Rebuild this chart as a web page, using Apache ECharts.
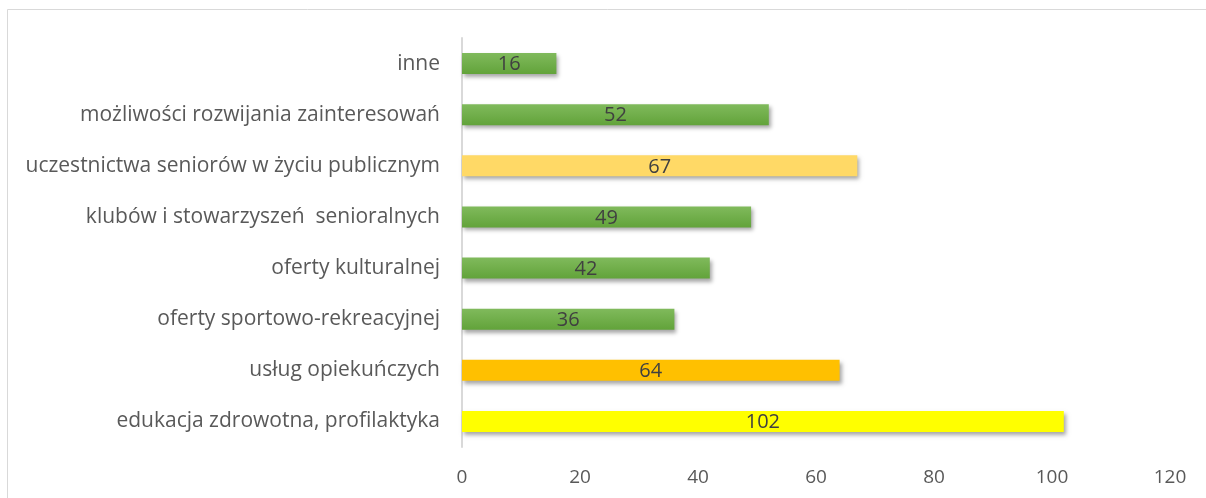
<!DOCTYPE html>
<html>
<head>
<meta charset="utf-8">
<style>
html,body{margin:0;padding:0;background:#fff;}
#chart{width:1206px;height:498px;}
</style>
<script src="https://cdn.jsdelivr.net/npm/echarts@6/dist/echarts.min.js"></script>
</head>
<body>
<div id="chart"></div>
<script>
var categories = [
  "inne",
  "możliwości rozwijania zainteresowań",
  "uczestnictwa seniorów w życiu publicznym",
  "klubów i stowarzyszeń  senioralnych",
  "oferty kulturalnej",
  "oferty sportowo-rekreacyjnej",
  "usług opiekuńczych",
  "edukacja zdrowotna, profilaktyka"
];
var values = [16, 52, 67, 49, 42, 36, 64, 102];
var colorKeys = ["green", "green", "lightyellow", "green", "green", "green", "orange", "yellow"];
var xTicks = [0, 20, 40, 60, 80, 100, 120];

var palette = {
  green: new echarts.graphic.LinearGradient(0, 0, 0, 1, [
    {offset: 0, color: "#80ba5c"},
    {offset: 1, color: "#62a33a"}
  ]),
  lightyellow: "#ffd966",
  orange: "#ffc000",
  yellow: "#ffff00"
};

var FONT = "'Open Sans', sans-serif";
var chart = echarts.init(document.getElementById("chart"), null, {renderer: "canvas"});
chart.setOption({
  animation: false,
  backgroundColor: "#ffffff",
  graphic: [{
    type: "rect",
    shape: {x: 7.5, y: 9.5, width: 1220, height: 520},
    style: {fill: "none", stroke: "#d9d9d9", lineWidth: 1}
  }],
  grid: {left: 462, right: 36, top: 38, bottom: 51, containLabel: false},
  xAxis: {
    type: "value",
    min: xTicks[0],
    max: xTicks[xTicks.length - 1],
    interval: 20,
    axisLine: {show: false},
    axisTick: {show: false},
    splitLine: {show: false},
    axisLabel: {
      color: "#595959", fontSize: 19, fontFamily: FONT, margin: 21
    }
  },
  yAxis: {
    type: "category",
    inverse: true,
    data: categories,
    axisLine: {show: true, lineStyle: {color: "#d9d9d9", width: 2}},
    axisTick: {show: false},
    axisLabel: {color: "#595959", fontSize: 21, fontFamily: FONT, margin: 22}
  },
  series: [{
    type: "bar",
    barWidth: 21,
    data: values.map(function (v, i) {
      return {
        value: v,
        itemStyle: {
          color: palette[colorKeys[i]],
          shadowColor: "rgba(0,0,0,0.35)",
          shadowBlur: 4,
          shadowOffsetX: 2,
          shadowOffsetY: 3
        }
      };
    }),
    label: {
      show: true,
      position: "inside",
      offset: [0, 1],
      color: "#404040",
      fontSize: 20,
      fontFamily: FONT
    }
  }]
});
</script>
</body>
</html>
